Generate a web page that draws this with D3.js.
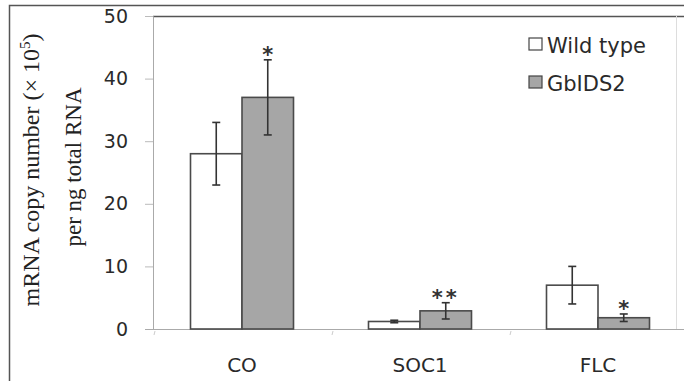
<!DOCTYPE html>
<html>
<head>
<meta charset="utf-8">
<script src="https://cdn.jsdelivr.net/npm/d3@7"></script>
<style>
  html, body { margin: 0; padding: 0; background: #fff; }
  svg { display: block; }
</style>
</head>
<body>
<svg id="chart" width="684" height="381"></svg>
<script>
// Transcript levels per gene, wild type vs. GbIDS2 line
const categories = ["CO", "SOC1", "FLC"];
const seriesNames = ["Wild type", "GbIDS2"];
const wildMeans = [28, 1.2, 7];
const wildErrors = [5, 0.2, 3];
const gbMeans = [37, 2.9, 1.8];
const gbErrors = [6, 1.3, 0.6];
const significance = ["*", "**", "*"];
const yTicks = [0, 10, 20, 30, 40, 50];

const fills = { "Wild type": "#ffffff", "GbIDS2": "#a6a6a6" };

const rows = categories.map((c, i) => ({
  category: c,
  sig: significance[i],
  values: [
    { series: "Wild type", mean: wildMeans[i], err: wildErrors[i] },
    { series: "GbIDS2", mean: gbMeans[i], err: gbErrors[i] }
  ]
}));

const svg = d3.select("#chart");
const sans = "'DejaVu Sans', Verdana, sans-serif";

const y = d3.scaleLinear().domain([0, 50]).range([329, 16]);
const x0 = d3.scaleBand().domain(categories).range([153, 687]).padding(0);
const x1 = d3.scaleBand().domain(seriesNames).range([0, x0.bandwidth()])
  .paddingInner(0).paddingOuter(0.728);

// outer frame
svg.append("path")
  .attr("d", "M9.5,381 V5.5 H684")
  .attr("fill", "none").attr("stroke", "#555").attr("stroke-width", 1.5);

// plot area border: top and right
svg.append("line")
  .attr("x1", 153).attr("x2", 684).attr("y1", y(50) + 0.5).attr("y2", y(50) + 0.5)
  .attr("stroke", "#555").attr("stroke-width", 1.3);
svg.append("line")
  .attr("x1", 676.5).attr("x2", 676.5).attr("y1", y(50)).attr("y2", y(0))
  .attr("stroke", "#ddd").attr("stroke-width", 1);

// y axis
const yAxis = svg.append("g")
  .attr("transform", "translate(153,0)")
  .call(d3.axisLeft(y).tickValues(yTicks).tickSize(8).tickPadding(17));
yAxis.select(".domain").attr("stroke", "#aaa");
yAxis.selectAll(".tick line").attr("stroke", "#bbb");
yAxis.selectAll(".tick text")
  .attr("font-family", sans).attr("font-size", 19).attr("fill", "#2a2a2a");

// x axis
const xAxis = svg.append("g")
  .attr("transform", `translate(0,${y(0)})`)
  .call(d3.axisBottom(x0).tickSize(0).tickPadding(29));
xAxis.select(".domain").remove();
xAxis.selectAll(".tick text")
  .attr("font-family", sans).attr("font-size", 20).attr("fill", "#2a2a2a");
svg.append("line")
  .attr("x1", 145).attr("x2", 684).attr("y1", y(0) + 0.5).attr("y2", y(0) + 0.5)
  .attr("stroke", "#aaa").attr("stroke-width", 1.2);
// small category boundary marks
svg.append("g").selectAll("line")
  .data(categories.map(c => x0(c)))
  .join("line")
  .attr("x1", d => d + 2).attr("x2", d => d + 1)
  .attr("y1", y(0) + 2).attr("y2", y(0) + 6)
  .attr("stroke", "#ccc").attr("stroke-width", 1);

// bars
const groups = svg.append("g").selectAll("g")
  .data(rows)
  .join("g")
  .attr("transform", d => `translate(${x0(d.category)},0)`);

groups.selectAll("rect")
  .data(d => d.values)
  .join("rect")
  .attr("x", d => x1(d.series))
  .attr("y", d => y(d.mean))
  .attr("width", x1.bandwidth())
  .attr("height", d => y(0) - y(d.mean))
  .attr("fill", d => fills[d.series])
  .attr("stroke", "#4a4a4a")
  .attr("stroke-width", 1.6);

// error bars
const capW = 8;
const eb = groups.selectAll("g.err")
  .data(d => d.values)
  .join("g").attr("class", "err")
  .attr("stroke", "#333").attr("stroke-width", 1.6);
eb.append("line")
  .attr("x1", d => x1(d.series) + x1.bandwidth() / 2)
  .attr("x2", d => x1(d.series) + x1.bandwidth() / 2)
  .attr("y1", d => y(d.mean + d.err))
  .attr("y2", d => y(d.mean - d.err));
eb.append("line")
  .attr("x1", d => x1(d.series) + x1.bandwidth() / 2 - capW / 2)
  .attr("x2", d => x1(d.series) + x1.bandwidth() / 2 + capW / 2)
  .attr("y1", d => y(d.mean + d.err))
  .attr("y2", d => y(d.mean + d.err));
eb.append("line")
  .attr("x1", d => x1(d.series) + x1.bandwidth() / 2 - capW / 2)
  .attr("x2", d => x1(d.series) + x1.bandwidth() / 2 + capW / 2)
  .attr("y1", d => y(d.mean - d.err))
  .attr("y2", d => y(d.mean - d.err));

// significance stars above the GbIDS2 bars
groups.append("text")
  .attr("x", x1("GbIDS2") + x1.bandwidth() / 2)
  .attr("y", d => y(d.values[1].mean + d.values[1].err) + 2)
  .attr("text-anchor", "middle")
  .attr("font-family", sans).attr("font-size", 21).attr("font-weight", "bold")
  .attr("fill", "#333")
  .attr("letter-spacing", d => d.sig.length > 1 ? 3 : 0)
  .text(d => d.sig);

// y axis title
const serif = "'Liberation Serif', 'Times New Roman', serif";
const t1 = svg.append("text")
  .attr("transform", "translate(39,170) rotate(-90)")
  .attr("text-anchor", "middle")
  .attr("font-family", serif).attr("font-size", 24).attr("fill", "#222");
t1.append("tspan").text("mRNA copy number (× 10");
t1.append("tspan").attr("font-size", 15).attr("dy", -9).text("5");
t1.append("tspan").attr("dy", 9).text(")");
svg.append("text")
  .attr("transform", "translate(81,167) rotate(-90)")
  .attr("text-anchor", "middle")
  .attr("font-family", serif).attr("font-size", 23).attr("fill", "#222")
  .text("per ng total RNA");

// legend
const legend = svg.append("g").selectAll("g")
  .data(seriesNames)
  .join("g")
  .attr("transform", (d, i) => `translate(529,${38 + i * 38})`);
legend.append("rect")
  .attr("width", 13).attr("height", 12)
  .attr("fill", d => fills[d])
  .attr("stroke", "#444").attr("stroke-width", 1.2);
legend.append("text")
  .attr("x", 18).attr("y", 15)
  .attr("font-family", sans).attr("font-size", 21).attr("fill", "#2a2a2a")
  .text(d => d);
</script>
</body>
</html>
